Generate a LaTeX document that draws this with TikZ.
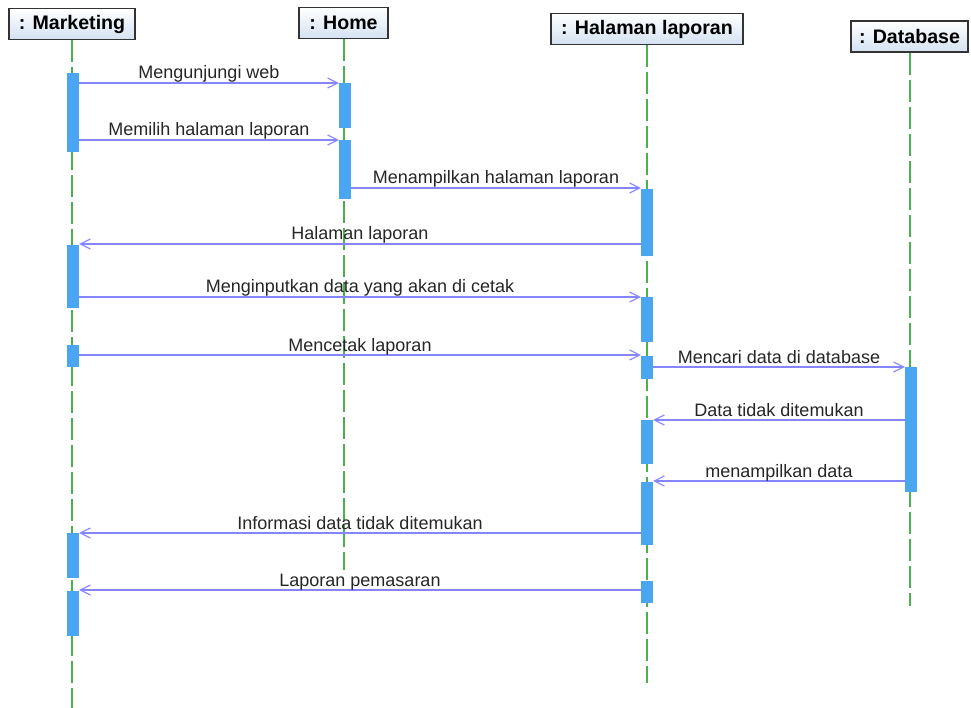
\documentclass[tikz,border=0pt]{standalone}
\usepackage{fontspec}
\setmainfont{Liberation Sans}
\usetikzlibrary{arrows.meta}
\definecolor{lifegreen}{HTML}{4CAF50}
\definecolor{actblue}{HTML}{4AA6F0}
\definecolor{msgblue}{HTML}{8585FF}
\definecolor{headtop}{HTML}{FFFFFF}
\definecolor{headbot}{HTML}{D4E2F2}
\tikzset{
  head/.style={draw=black!80, line width=1.2pt, top color=headtop, bottom color=headbot,
    inner sep=0pt, minimum height=31pt, font=\fontsize{19.6}{21}\selectfont\bfseries},
  lifeline/.style={draw=lifegreen, line width=1.3pt, dash pattern=on 22pt off 5pt},
  act/.style={fill=actblue, draw=none, minimum width=12pt, inner sep=0pt},
  msg/.style={draw=msgblue, line width=1.3pt, -{Straight Barb[length=10pt,width=10pt,line width=1.1pt]}},
  lbl/.style={font=\fontsize{18}{20}\selectfont, text=black!85, inner sep=0pt, anchor=base, yshift=4pt}
}
\newcommand\actbar[4]{\node[act, minimum height={#4-#3}] (#1) at (#2,{(#3+#4)/2}) {};}
\begin{document}
\begin{tikzpicture}[x=1pt, y=-1pt]
\useasboundingbox (0,0) rectangle (971,708);
\fill[white] (0,0) rectangle (971,708);

% object heads
\node[head, minimum width=126pt] (mk) at (72,24) {: Marketing};
\node[head, minimum width=89pt] (hm) at (343.5,23) {: Home};
\node[head, minimum width=192pt] (hl) at (647,29) {: Halaman laporan};
\node[head, minimum width=117pt] (db) at (909.5,36.5) {: Database};

% lifeline ends
\coordinate (mkEnd) at (72,708);
\coordinate (hmEnd) at (344,570);
\coordinate (hlEnd) at (647,683);
\coordinate (dbEnd) at (910,606);

\draw[lifeline] (mk.south -| mkEnd) -- (mkEnd);
\draw[lifeline] (hm.south -| hmEnd) -- (hmEnd);
\draw[lifeline] (hl.south -| hlEnd) -- (hlEnd);
\draw[lifeline] (db.south -| dbEnd) -- (dbEnd);

% activation bars
\actbar{mk1}{73}{73}{152}
\actbar{mk2}{73}{245}{308}
\actbar{mk3}{73}{345}{367}
\actbar{mk4}{73}{533}{578}
\actbar{mk5}{73}{591}{636}
\actbar{hm1}{345}{83}{128}
\actbar{hm2}{345}{140}{199}
\actbar{hl1}{647}{189}{256}
\actbar{hl2}{647}{297}{342}
\actbar{hl3}{647}{356}{379}
\actbar{hl4}{647}{420}{464}
\actbar{hl5}{647}{482}{545}
\actbar{hl6}{647}{581}{603}
\actbar{db1}{911}{367}{492}

% message heights
\coordinate (m1) at (0,83);
\coordinate (m2) at (0,140);
\coordinate (m3) at (0,188);
\coordinate (m4) at (0,244);
\coordinate (m5) at (0,297);
\coordinate (m6) at (0,355);
\coordinate (m7) at (0,367);
\coordinate (m8) at (0,420);
\coordinate (m9) at (0,481);
\coordinate (m10) at (0,533);
\coordinate (m11) at (0,590);

% messages
\draw[msg] (mk1.east |- m1) -- node[lbl]{Mengunjungi web} (hm1.west |- m1);
\draw[msg] (mk1.east |- m2) -- node[lbl]{Memilih halaman laporan} (hm2.west |- m2);
\draw[msg] (hm2.east |- m3) -- node[lbl]{Menampilkan halaman laporan} (hl1.west |- m3);
\draw[msg] (hl1.west |- m4) -- node[lbl]{Halaman laporan} (mk2.east |- m4);
\draw[msg] (mk2.east |- m5) -- node[lbl]{Menginputkan data yang akan di cetak} (hl2.west |- m5);
\draw[msg] (mk3.east |- m6) -- node[lbl]{Mencetak laporan} (hl3.west |- m6);
\draw[msg] (hl3.east |- m7) -- node[lbl]{Mencari data di database} (db1.west |- m7);
\draw[msg] (db1.west |- m8) -- node[lbl]{Data tidak ditemukan} (hl4.east |- m8);
\draw[msg] (db1.west |- m9) -- node[lbl]{menampilkan data} (hl5.east |- m9);
\draw[msg] (hl5.west |- m10) -- node[lbl]{Informasi data tidak ditemukan} (mk4.east |- m10);
\draw[msg] (hl6.west |- m11) -- node[lbl]{Laporan pemasaran} (mk5.east |- m11);
\end{tikzpicture}
\end{document}
